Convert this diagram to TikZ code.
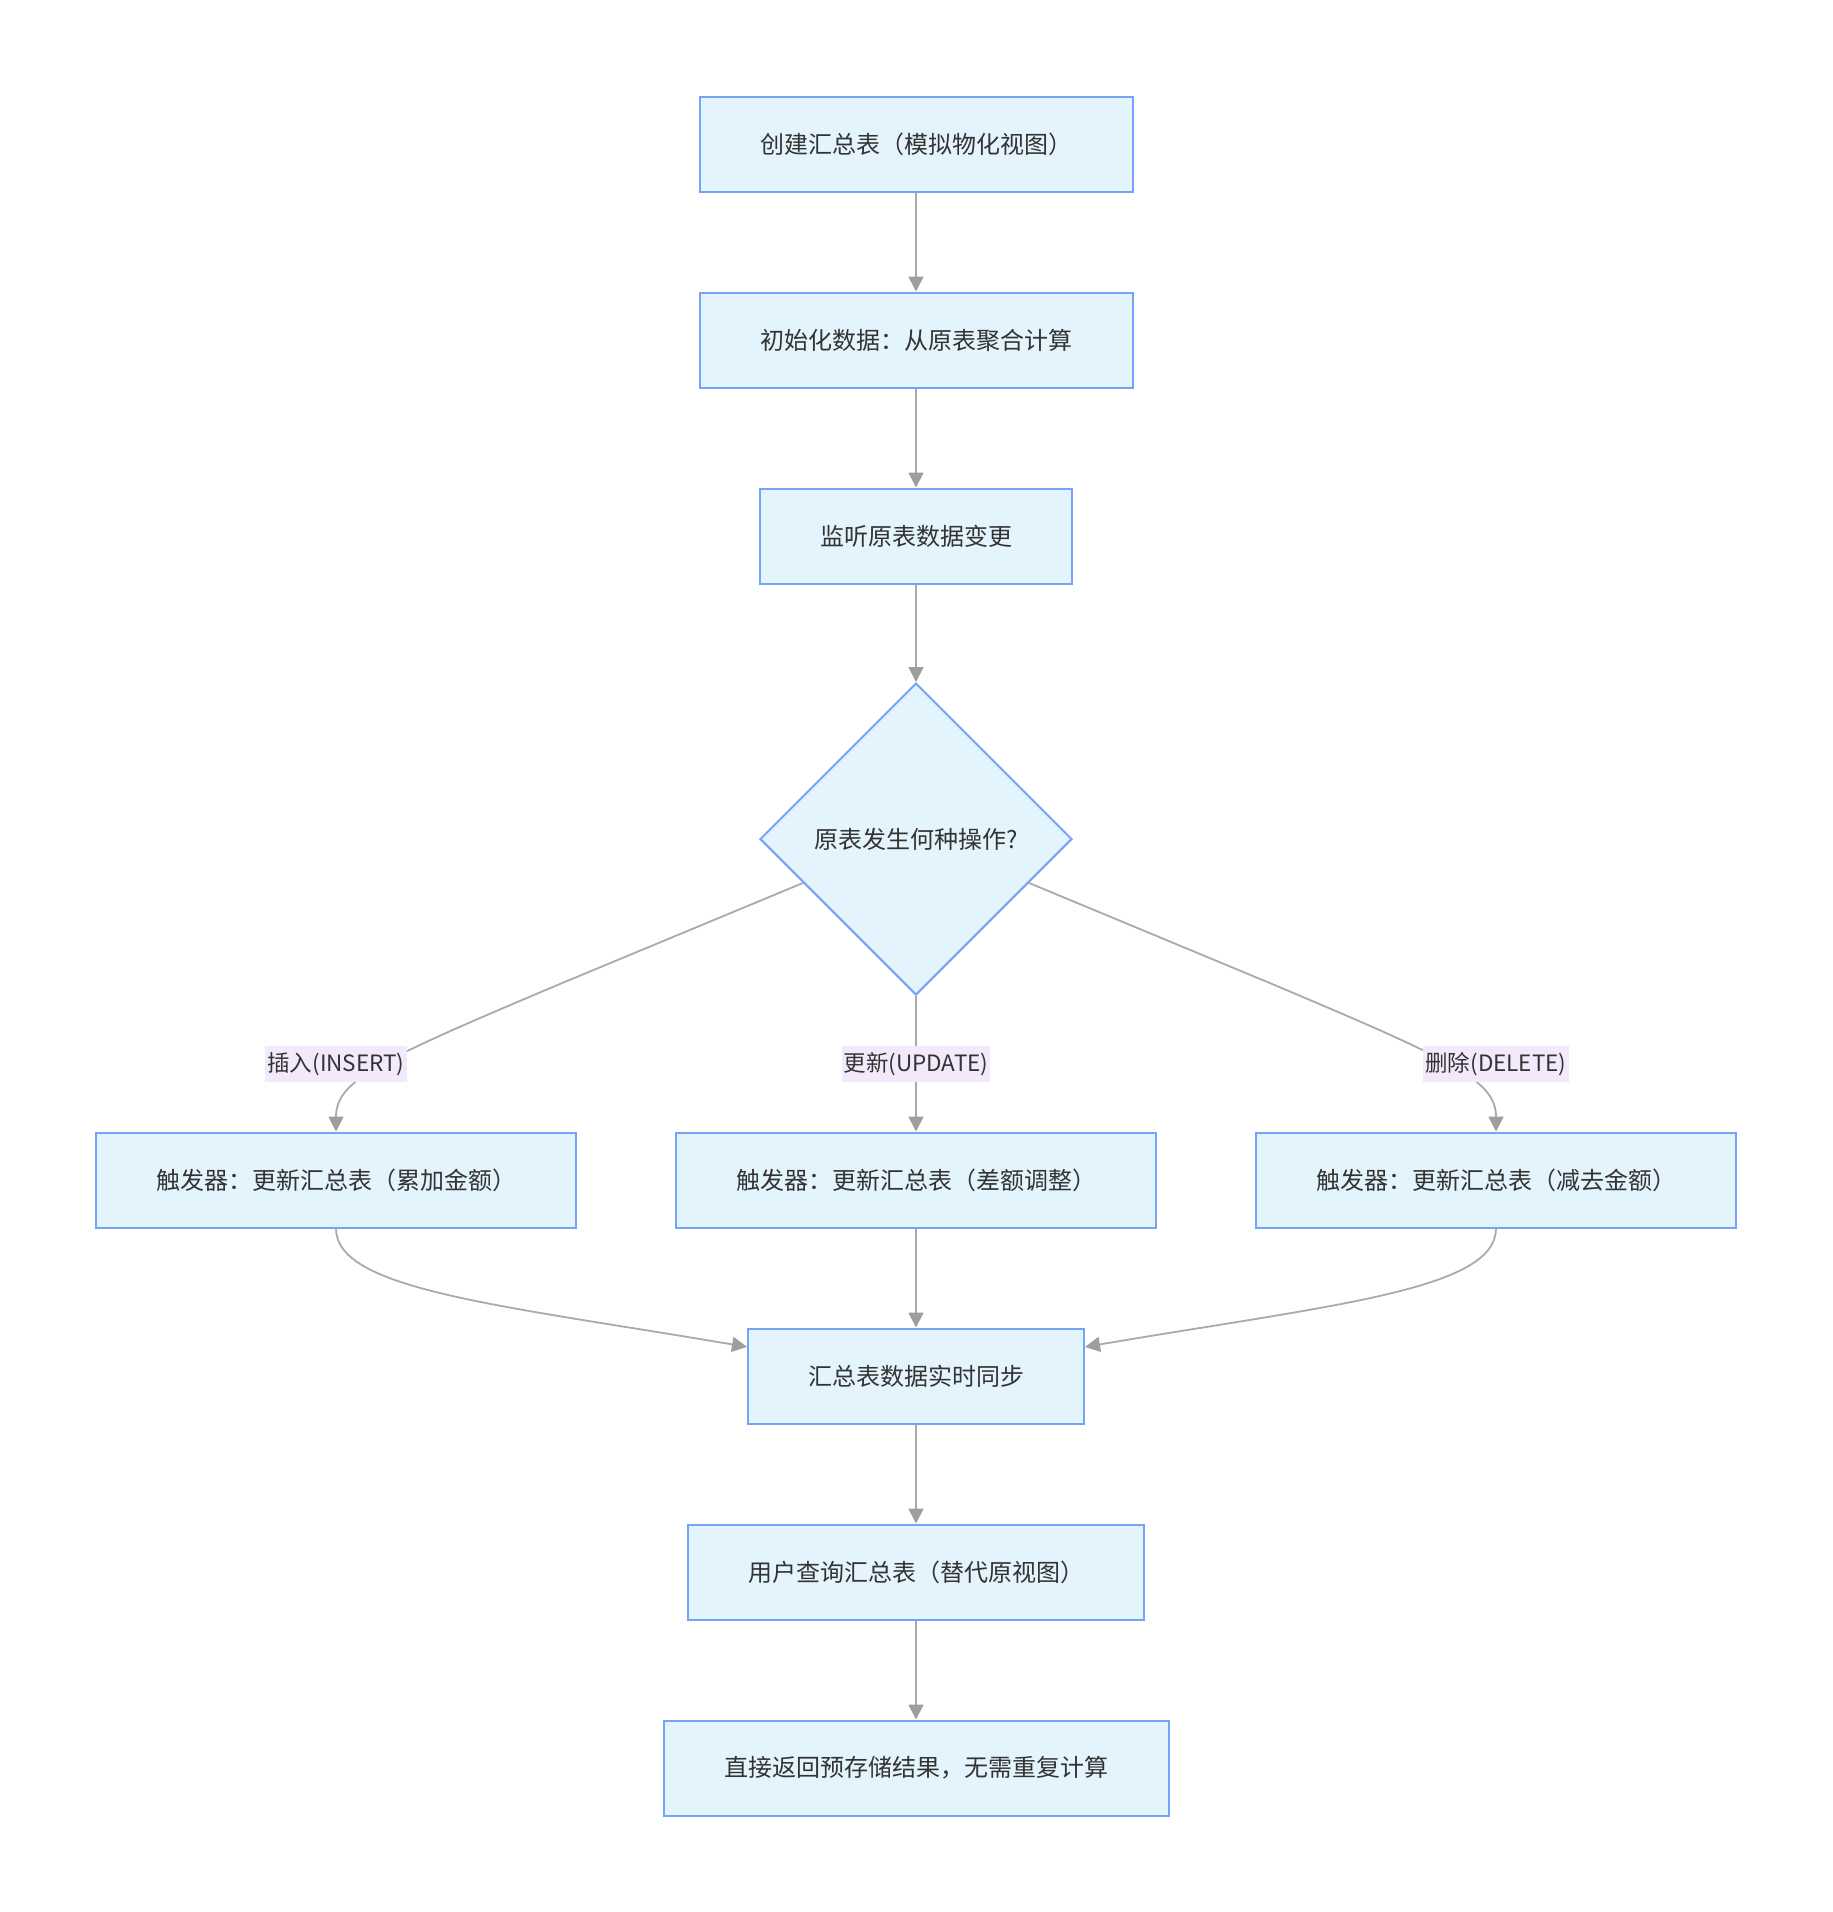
\documentclass[tikz,border=0pt]{standalone}
\usepackage{fontspec}
\setmainfont{Noto Sans CJK SC}
\usetikzlibrary{shapes.geometric,arrows.meta,calc}
\definecolor{boxfill}{HTML}{E3F4FD}
\definecolor{boxline}{HTML}{74A3F8}
\definecolor{txt}{HTML}{333333}
\definecolor{edgec}{HTML}{AAAAAA}
\definecolor{tipc}{HTML}{9E9E9E}
\definecolor{labfill}{HTML}{F3E9FD}
\tikzset{
  box/.style={draw=boxline, fill=boxfill, line width=2pt, minimum height=95pt, inner sep=0pt, text=txt, font=\fontsize{24}{28}\selectfont},
  dia/.style={diamond, draw=boxline, fill=boxfill, line width=2pt, minimum width=312pt, minimum height=312pt, inner sep=0pt, text=txt, font=\fontsize{24}{28}\selectfont},
  edge/.style={draw=edgec, line width=1.8pt, -{Triangle[length=15pt,width=15pt,fill=tipc,color=tipc]}},
  lab/.style={fill=labfill, text=txt, inner xsep=2pt, inner ysep=0pt, minimum height=36pt, font=\fontsize{22.5}{26}\selectfont}
}
\begin{document}
\begin{tikzpicture}[x=1pt,y=-1pt]
\useasboundingbox[fill=white] (0,0) rectangle (1832,1912);
\node[box, minimum width=433pt] (b1) at (916,144) {创建汇总表（模拟物化视图）};
\node[box, minimum width=433pt] (b2) at (916,340) {初始化数据：从原表聚合计算};
\node[box, minimum width=312pt] (b3) at (916,536) {监听原表数据变更};
\node[dia] (d) at (916,839) {原表发生何种操作?};
\node[box, minimum width=480pt] (b4) at (336,1180) {触发器：更新汇总表（累加金额）};
\node[box, minimum width=480pt] (bm) at (916,1180) {触发器：更新汇总表（差额调整）};
\node[box, minimum width=480pt] (b6) at (1496,1180) {触发器：更新汇总表（减去金额）};
\node[box, minimum width=336pt] (b5) at (916,1376) {汇总表数据实时同步};
\node[box, minimum width=456pt] (b7) at (916,1572) {用户查询汇总表（替代原视图）};
\node[box, minimum width=505pt] (b8) at (916,1768) {直接返回预存储结果，无需重复计算};

\draw[edge] (b1) -- (b2);
\draw[edge] (b2) -- (b3);
\draw[edge] (b3) -- (d);

\coordinate (dl) at ($(d.west)!0.28!(d.south)$);
\coordinate (dr) at ($(d.east)!0.28!(d.south)$);
\draw[edge] (dl) -- ++(-243,101) .. controls (380,1060) and (336,1080) .. (b4.north);
\draw[edge] (dr) -- ++(243,101) .. controls (1452,1060) and (1496,1080) .. (b6.north);
\node[lab] (l1) at (336,1064) {插入(INSERT)};
\node[lab] (l3) at (1496,1064) {删除(DELETE)};
\draw[edge] (d.south) -- node[lab] (l2) {更新(UPDATE)} (bm.north);

\coordinate (s1) at ($(b5.north west)!0.2!(b5.south west)$);
\coordinate (s2) at ($(b5.north east)!0.2!(b5.south east)$);
\draw[edge] (b4.south) .. controls (336,1290) and (500,1305) .. (s1);
\draw[edge] (b6.south) .. controls (1496,1290) and (1332,1305) .. (s2);
\draw[edge] (bm) -- (b5);
\draw[edge] (b5) -- (b7);
\draw[edge] (b7) -- (b8);
\end{tikzpicture}
\end{document}
